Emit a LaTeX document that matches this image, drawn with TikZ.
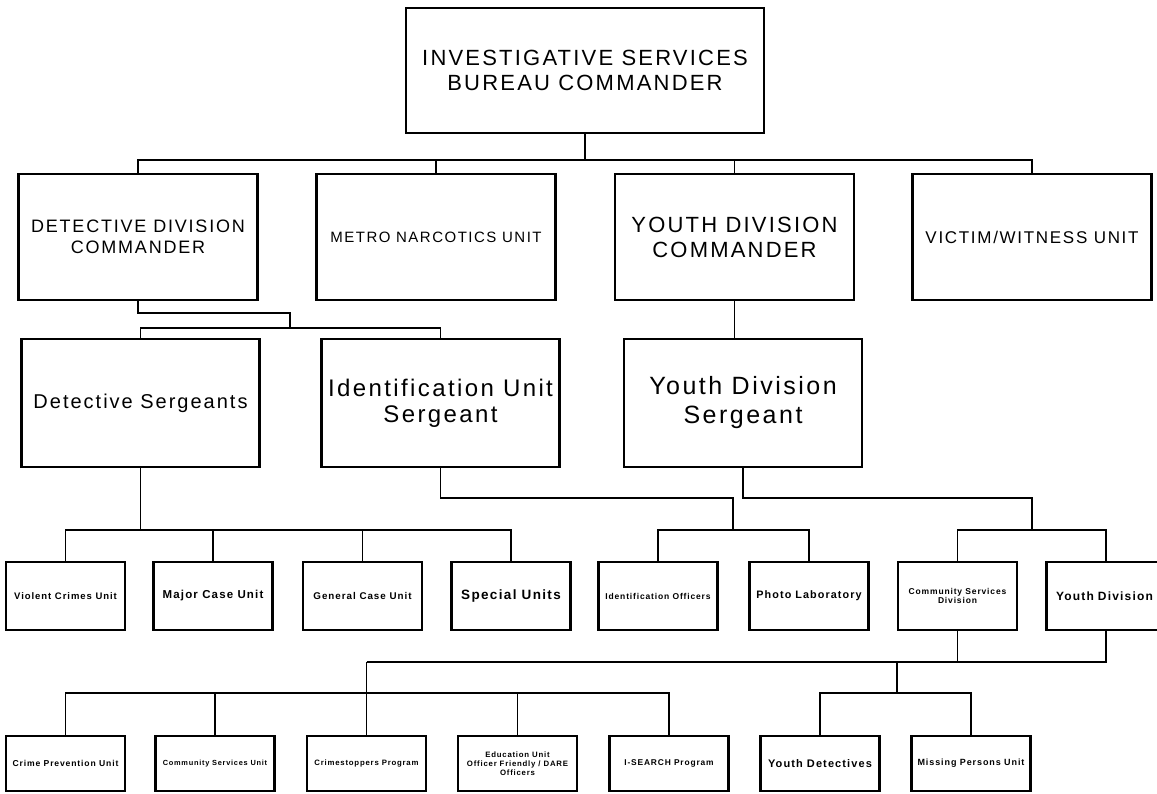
\documentclass[tikz,border=0pt]{standalone}
\usepackage{fontspec}
\setmainfont{Liberation Sans}[LetterSpace=10]
\begin{document}
\begin{tikzpicture}[x=1pt,y=-1pt,
  box/.style={draw=black, line width=2.2pt, inner sep=0pt, align=center, fill=white},
  fs/.style 2 args={font=\fontsize{#1}{#2}\selectfont},
  fb/.style 2 args={font=\fontsize{#1}{#2}\selectfont\bfseries},
  big/.style={box, minimum width=358, minimum height=125},
  rtwo/.style={box, minimum width=239, minimum height=126},
  rthree/.style={box, minimum width=238, minimum height=128},
  rfour/.style={box, minimum width=119, minimum height=68},
  rfive/.style={box, minimum width=119, minimum height=55},
  conn/.style={line width=1.7pt}]
\fill[white] (0,0) rectangle (1157,793);
\clip (0,0) rectangle (1157,793);
% row 1
\node[big, fs={22}{25}] (isb) at (585,70.5) {INVESTIGATIVE SERVICES\\BUREAU COMMANDER};
% row 2
\node[rtwo, fs={18}{21}] (ddc) at (138,237) {DETECTIVE DIVISION\\COMMANDER};
\node[rtwo, fs={15}{17}] (mnu) at (436,237) {METRO NARCOTICS UNIT};
\node[rtwo, fs={22}{25}] (ydc) at (734.5,237) {YOUTH DIVISION\\COMMANDER};
\node[rtwo, fs={17}{19}] (vwu) at (1032,237) {VICTIM/WITNESS UNIT};
% row 3
\node[rthree, fs={20}{22}] (ds) at (140.5,403) {Detective Sergeants};
\node[rthree, fs={24}{26}] (ius) at (440.5,403) {Identification Unit\\Sergeant};
\node[rthree, fs={25}{29}] (yds) at (743,403) {Youth Division\\Sergeant};
% row 4
\node[rfour, fb={9.5}{11}] (vcu) at (65.5,596) {Violent Crimes Unit};
\node[rfour, fb={11.5}{13}] (mcu) at (213,596) {Major Case Unit};
\node[rfour, fb={9.8}{11}] (gcu) at (362.5,596) {General Case Unit};
\node[rfour, fb={13.5}{15}] (spu) at (511,596) {Special Units};
\node[rfour, fb={8.5}{10}] (ido) at (658,596) {Identification Officers};
\node[rfour, fb={10.8}{12}] (pho) at (809,596) {Photo Laboratory};
\node[rfour, fb={8.5}{9.5}] (csd) at (957.5,596) {Community Services\\Division};
\node[rfour, fb={12}{14}, text width=100, align=left] (ydv) at (1106,596) {Youth Division};
% row 5
\node[rfive, fb={8.6}{10}] (cpu) at (65.5,763.5) {Crime Prevention Unit};
\node[rfive, fb={7.4}{9}] (csu) at (215,763.5) {Community Services Unit};
\node[rfive, fb={7.8}{9}] (cst) at (366.5,763.5) {Crimestoppers Program};
\node[rfive, fb={7.8}{9}] (edu) at (517.5,763.5) {Education Unit\\Officer Friendly / DARE\\Officers};
\node[rfive, fb={8.4}{10}] (isp) at (669,763.5) {I-SEARCH Program};
\node[rfive, fb={11}{13}] (ydt) at (820,763.5) {Youth Detectives};
\node[rfive, fb={9}{10}] (mpu) at (971,763.5) {Missing Persons Unit};
% connectors row 1 -> 2
\coordinate (j1) at (585,160);
\draw[conn] (isb.south) -- (j1);
\draw[conn] (ddc.north) |- (j1) -| (vwu.north);
\draw[conn] (mnu.north) -- (mnu.north |- j1);
\draw[conn] (ydc.north) -- (ydc.north |- j1);
% row 2 -> 3
\coordinate (j2) at (290,313);
\coordinate (j3) at (290,328);
\draw[conn] (ddc.south) |- (j2) -- (j3);
\draw[conn] (ds.north) |- (j3) -| (ius.north);
\draw[conn] (ydc.south) -- (ydc.south |- yds.north);
% row 3 -> 4
\coordinate (j4) at (140.5,530);
\draw[conn] (ds.south) -- (j4);
\draw[conn] (vcu.north) |- (j4) -| (spu.north);
\draw[conn] (mcu.north) -- (mcu.north |- j4);
\draw[conn] (gcu.north) -- (gcu.north |- j4);
\coordinate (j5) at (733,498);
\coordinate (j6) at (733,530);
\draw[conn] (ius.south) |- (j5) -- (j6);
\draw[conn] (ido.north) |- (j6) -| (pho.north);
\coordinate (j7) at (1032,498);
\coordinate (j8) at (1032,530);
\draw[conn] (yds.south) |- (j7) -- (j8);
\draw[conn] (csd.north) |- (j8) -| (ydv.north);
% row 4 -> 5
\coordinate (j9) at (366.5,662);
\coordinate (j10) at (897,662);
\coordinate (j11) at (366.5,693);
\coordinate (j12) at (897,693);
\draw[conn] (j9) -| (ydv.south);
\draw[conn] (csd.south) -- (csd.south |- j9);
\draw[conn] (j9) -- (cst.north);
\draw[conn] (cpu.north) |- (j11) -| (isp.north);
\draw[conn] (csu.north) -- (csu.north |- j11);
\draw[conn] (edu.north) -- (edu.north |- j11);
\draw[conn] (j10) -- (j12);
\draw[conn] (ydt.north) |- (j12) -| (mpu.north);
\end{tikzpicture}
\end{document}
